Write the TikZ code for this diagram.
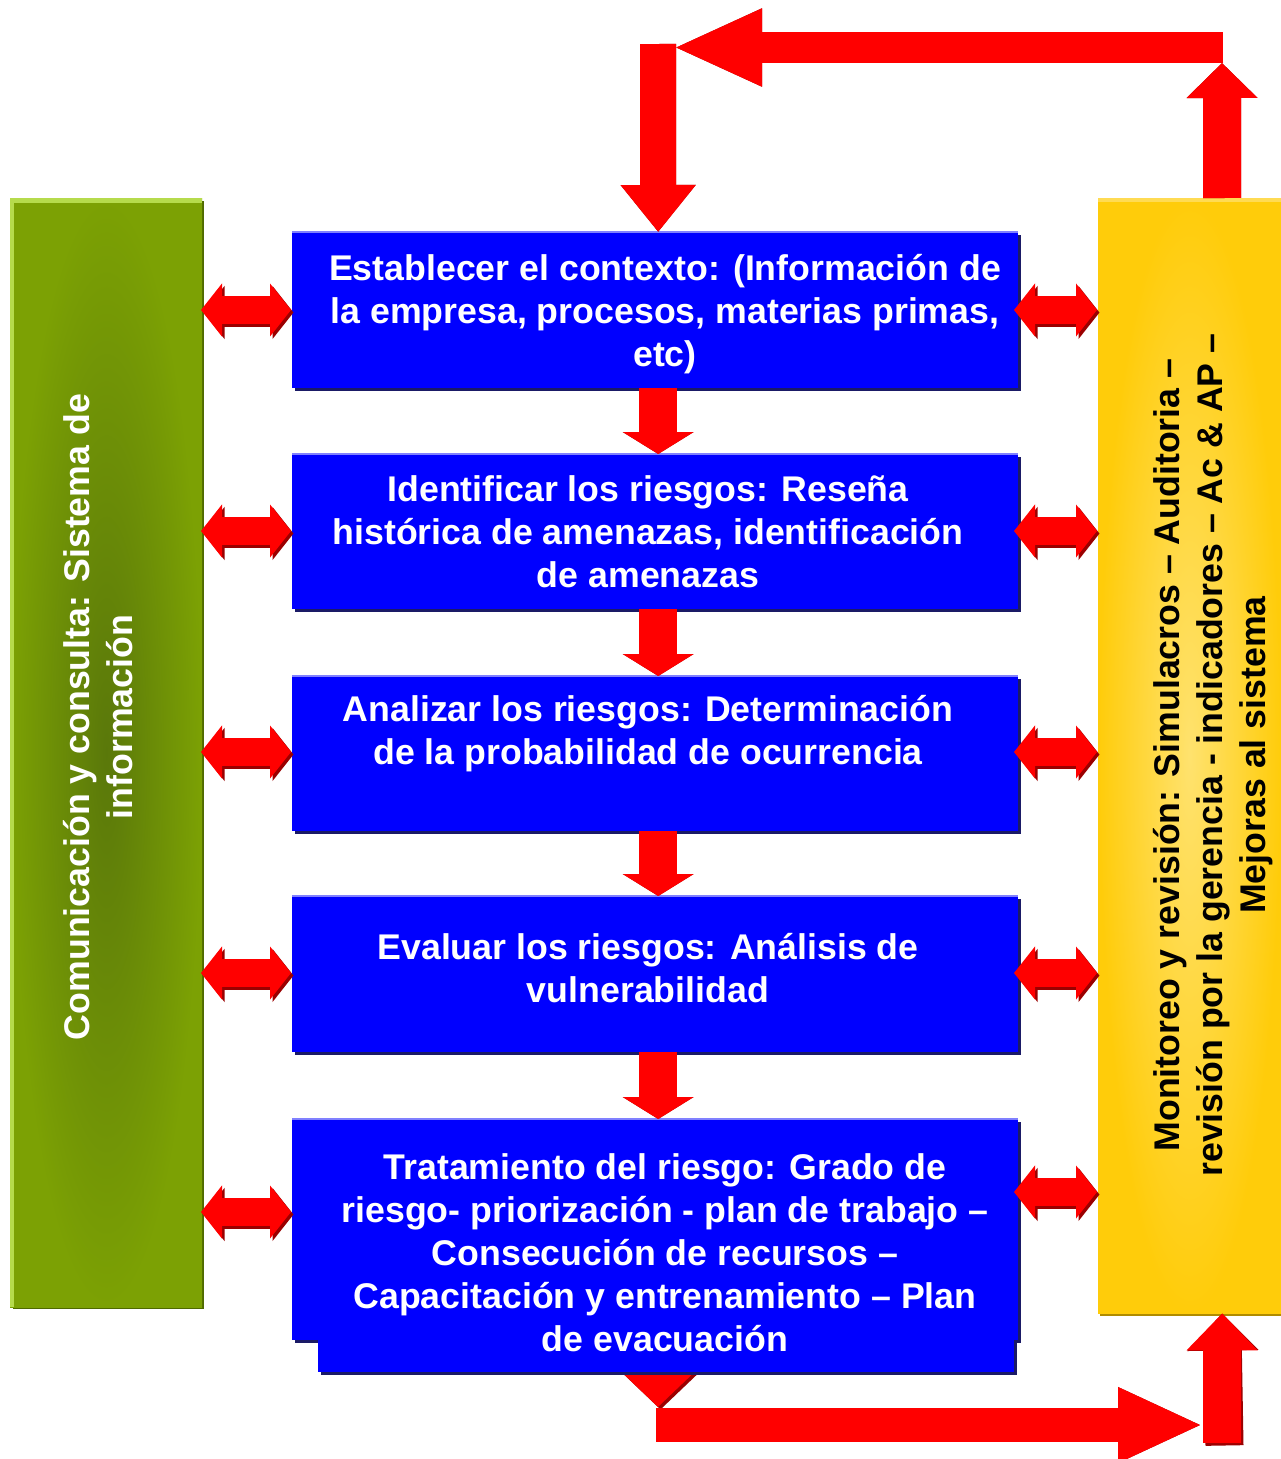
\documentclass[tikz,border=0pt]{standalone}
\usepackage{fontspec}
\setmainfont{Liberation Sans}
\usetikzlibrary{arrows.meta}
\definecolor{bboxblue}{HTML}{0000FF}
\definecolor{bedge}{HTML}{8080FF}
\definecolor{bshadow}{HTML}{1A1A66}
\definecolor{rred}{HTML}{FF0000}
\definecolor{rshadow}{HTML}{9A0000}
\definecolor{gmain}{HTML}{7CA104}
\definecolor{gdark}{HTML}{5A780A}
\definecolor{gedge}{HTML}{B6DB4C}
\definecolor{gshadow}{HTML}{4F6A00}
\definecolor{ymain}{HTML}{FFCC0A}
\definecolor{ylight}{HTML}{FFE26E}
\definecolor{yshadow}{HTML}{B08C00}
\newcommand{\redarrow}[2]{%
  \begin{scope}[shift={(2.5,2.5)}]\draw[rshadow,#1] #2;\end{scope}
  \draw[rred,#1] #2;}
\begin{document}
\begin{tikzpicture}[x=1pt,y=-1pt,
  txt/.style={font=\fontsize{35.7}{43}\selectfont\bfseries, align=center, inner sep=0pt},
  bluebox/.style={fill=bboxblue, draw=none, inner sep=0pt, anchor=north west,
    preaction={fill=bshadow, transform canvas={shift={(3pt,-3pt)}}}},
  sidebar/.style={draw=none, inner sep=0pt, anchor=north west},
  downarr/.style={line width=38pt, -{Triangle[width=70pt,length=22pt]}},
  dblarr/.style={line width=28pt, {Triangle[width=52pt,length=21pt]}-{Triangle[width=52pt,length=21pt]}}
]
\useasboundingbox (0,0) rectangle (1281,1459);
\fill[white] (0,0) rectangle (1281,1459);

% side bars
\fill[gshadow] (13,201) rectangle (204,1309);
\node[sidebar, minimum width=192pt, minimum height=1109pt, shading=radial, inner color=gdark, outer color=gmain] (g) at (10,198) {};
\fill[gedge] (10,198) rectangle (202,203);
\fill[gedge] (10,198) rectangle (14,1307);

\fill[yshadow] (1100,201) rectangle (1281,1316);
\node[sidebar, minimum width=183pt, minimum height=1115pt, shading=radial, inner color=ylight, outer color=ymain] (y) at (1098,198) {};
\fill[ymain!70!white] (1098,198) rectangle (1281,202);

% arrow below box 5 (shaft hidden under box)
\redarrow{line width=38pt, -{Triangle[width=71pt,length=35pt]}}{(658,1330) -- (658,1407)}
\coordinate (bl) at (656,1425);
\coordinate (br) at (1203,1425);
\redarrow{line width=34pt, -{Triangle[width=69pt,length=85pt]}}{(bl) -- (br)}

% blue boxes
\node[bluebox, minimum width=726pt, minimum height=156pt] (b1) at (292,232) {};
\node[bluebox, minimum width=726pt, minimum height=155pt] (b2) at (292,454) {};
\node[bluebox, minimum width=726pt, minimum height=155pt] (b3) at (292,676) {};
\node[bluebox, minimum width=726pt, minimum height=156pt] (b4) at (292,896) {};
\fill[bshadow] (321,1340) rectangle (1017,1375);
\node[bluebox, minimum width=726pt, minimum height=221pt] (b5) at (292,1119) {};
\fill[bboxblue] (318,1330) rectangle (1014,1372);
\foreach \b in {b1,b2,b3,b4,b5}{
  \draw[bedge, line width=2.5pt] (\b.north west) -- (\b.north east);
}

% texts
\node[txt, white, anchor=north] (t1) at (665,250) {\strut Establecer el contexto: (Información de\\la empresa, procesos, materias primas,\\etc)};
\node[txt, white, anchor=north] (t2) at (648,471) {\strut Identificar los riesgos: Reseña\\histórica de amenazas, identificación\\de amenazas};
\node[txt, white, anchor=north] (t3) at (648,691) {\strut Analizar los riesgos: Determinación\\de la probabilidad de ocurrencia};
\node[txt, white, anchor=north] (t4) at (648,929) {\strut Evaluar los riesgos: Análisis de\\vulnerabilidad};
\node[txt, white, anchor=north] (t5) at (665,1149) {\strut Tratamiento del riesgo: Grado de\\riesgo- priorización - plan de trabajo –\\Consecución de recursos –\\Capacitación y entrenamiento – Plan\\de evacuación};
\node[txt, white, rotate=90] (tg) at (98,717) {Comunicación y consulta: Sistema de\\información};
\node[txt, black, rotate=90] (ty) at (1213,755) {Monitoreo y revisión: Simulacros – Auditoria –\\revisión por la gerencia - indicadores – Ac \& AP –\\Mejoras al sistema};

% down arrows between boxes
\redarrow{downarr}{([xshift=3pt]b1.south) -- ([xshift=3pt]b2.north)}
\redarrow{downarr}{([xshift=3pt]b2.south) -- ([xshift=3pt]b3.north)}
\redarrow{downarr}{([xshift=3pt]b3.south) -- ([xshift=3pt]b4.north)}
\redarrow{downarr}{([xshift=3pt]b4.south) -- ([xshift=3pt]b5.north)}

% side double arrows
\foreach \b/\yl/\yr in {b1/310/310, b2/531/531, b3/752/752, b4/973/973, b5/1212/1192}{
  \redarrow{dblarr}{(201,\yl) -- (291,\yl)}
  \redarrow{dblarr}{(1014,\yr) -- (1097,\yr)}
}

% feedback loop at top
\coordinate (upTip) at (1222,63);
\coordinate (hr) at (1223,47.5);
\coordinate (hl) at (673,47.5);
\coordinate (vt) at (658,44);
\redarrow{line width=38pt, -{Triangle[width=69pt,length=35pt]}}{([xshift=32.5pt]y.north) -- (upTip)}
\redarrow{line width=31pt, -{Triangle[width=71pt,length=89pt]}}{(hr) -- (hl)}
\redarrow{line width=36pt, -{Triangle[width=72pt,length=47pt]}}{(vt) -- ([xshift=3pt]b1.north)}

% bottom up arrow into monitoring bar
\redarrow{line width=38pt, -{Triangle[width=69pt,length=37pt]}}{(1222,1443) -- ([xshift=32.5pt]y.south)}
\end{tikzpicture}
\end{document}
